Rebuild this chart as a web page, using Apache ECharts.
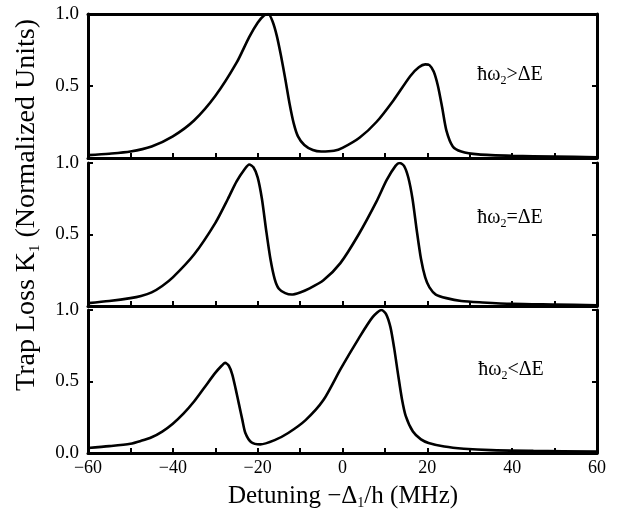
<!DOCTYPE html>
<html>
<head>
<meta charset="utf-8">
<script src="https://cdn.jsdelivr.net/npm/echarts@6/dist/echarts.min.js"></script>
<style>html,body{margin:0;padding:0;background:#fff}#c{width:636px;height:517px}</style>
</head>
<body>
<div id="c"></div>
<script>
// Panel 1: ħω2 > ΔE
var x1 = [-60,-55,-50,-45,-40,-35,-30,-25,-22,-20,-18.5,-17.5,-16.5,-15.5,-14.5,-13.5,-12.5,-11.5,-10.5,-9,-7,-5,-2,0,4,8,12,16,18,19.5,20.5,21.5,22.5,23.5,24.5,26,28,32,40,50,60];
var y1 = [0.02,0.03,0.045,0.08,0.15,0.26,0.43,0.66,0.84,0.94,0.99,1.0,0.95,0.85,0.71,0.55,0.38,0.24,0.15,0.09,0.055,0.045,0.05,0.07,0.14,0.25,0.40,0.57,0.63,0.65,0.645,0.6,0.5,0.35,0.19,0.08,0.045,0.025,0.015,0.01,0.005];
// Panel 2: ħω2 = ΔE
var x2 = [-60,-55,-50,-47.5,-45,-42.5,-40,-35,-30,-27,-25,-23,-22,-21,-20,-19,-18,-17,-16,-15,-13.5,-12,-10,-8,-4.5,-0.5,3.8,8,10.4,12.5,13.5,14.5,15.5,16.5,17.5,18.5,19.5,20.5,22,24.5,28,33,40,50,60];
var y2 = [0.02,0.035,0.055,0.07,0.095,0.14,0.2,0.36,0.58,0.75,0.87,0.96,0.99,0.97,0.9,0.75,0.53,0.33,0.19,0.12,0.09,0.08,0.095,0.12,0.18,0.30,0.50,0.73,0.88,0.98,1.0,0.98,0.9,0.75,0.53,0.33,0.2,0.13,0.08,0.055,0.035,0.025,0.015,0.01,0.005];
// Panel 3: ħω2 < ΔE
var x3 = [-60,-55,-50,-47.5,-45,-42.5,-40,-37.5,-35,-32.5,-30,-28.5,-27.7,-26.8,-26,-25.2,-24.4,-23.6,-22.9,-21.5,-19.4,-16,-12.8,-8.7,-4.5,-0.4,3.8,7.1,9.2,10.3,11.3,12.2,13.1,14,14.9,16.6,18.5,20.3,24,28.6,35,45,60];
var y3 = [0.035,0.048,0.065,0.085,0.11,0.15,0.205,0.275,0.36,0.46,0.56,0.61,0.63,0.61,0.55,0.45,0.34,0.23,0.14,0.075,0.06,0.09,0.14,0.23,0.37,0.59,0.80,0.95,1.0,0.97,0.88,0.73,0.55,0.38,0.26,0.15,0.095,0.07,0.045,0.03,0.02,0.015,0.01];

var xMin = -60, xMax = 60, xStep = 20;
var yMin = 0, yMax = 1, yStep = 0.5;
var panelLabels = [['ħω','2','>ΔE'],['ħω','2','=ΔE'],['ħω','2','<ΔE']];

var FONT = 'Liberation Serif';
function pairs(xs, ys){ return xs.map(function(x,i){return [x, ys[i]];}); }

var grids = [
  {left:88, right:39, top:14, height:144},
  {left:88, right:39, top:163, height:143},
  {left:88, right:39, top:310, height:143}
];
var lineStyleAxis = {color:'#000', width:3};
var xAxes = [], yAxes = [];
grids.forEach(function(g, i){
  xAxes.push({
    type:'value', gridIndex:i, min:xMin, max:xMax, interval:xStep, position:'bottom',
    axisLine:{show:true, onZero:false, lineStyle:lineStyleAxis},
    axisTick:{show:true, inside:true, length:5, lineStyle:{width:2,color:'#000'}},
    minorTick:{show:true, splitNumber:2, length:5, lineStyle:{width:2,color:'#000'}},
    splitLine:{show:false},
    axisLabel:{show:i===2, color:'#000', fontFamily:FONT, fontSize:18, margin:6,
      formatter:function(v){return String(v).replace('-','\u2212');}}
  });
  yAxes.push({
    type:'value', gridIndex:i, min:yMin, max:yMax, interval:yStep, position:'left',
    axisLine:{show:true, onZero:false, lineStyle:lineStyleAxis},
    axisTick:{show:true, inside:true, length:5, lineStyle:{width:2,color:'#000'}},
    splitLine:{show:false},
    axisLabel:{show:true, color:'#000', fontFamily:FONT, fontSize:19, margin:9,
      formatter:function(v){ if(v===0 && i<2) return ''; return v.toFixed(1);} }
  });
  yAxes.push({
    type:'value', gridIndex:i, min:yMin, max:yMax, interval:yStep, position:'right',
    axisLine:{show:true, onZero:false, lineStyle:lineStyleAxis},
    axisTick:{show:true, inside:true, length:5, lineStyle:{width:2,color:'#000'}},
    splitLine:{show:false}, axisLabel:{show:false}
  });
});
// top border for first panel
xAxes.push({
  type:'value', gridIndex:0, min:xMin, max:xMax, position:'top',
  axisLine:{show:true, onZero:false, lineStyle:lineStyleAxis},
  axisTick:{show:false}, axisLabel:{show:false}, splitLine:{show:false}
});

var data = [pairs(x1,y1), pairs(x2,y2), pairs(x3,y3)];
var series = data.map(function(d, i){
  return {type:'line', xAxisIndex:i, yAxisIndex:2*i, data:d, symbol:'none', smooth:0.25,
    lineStyle:{color:'#000', width:2.6}, silent:true};
});

function richLabel(parts, size, subSize){
  return {
    text:'{a|'+parts[0]+'}{s|'+parts[1]+'}{a|'+parts[2]+'}',
    rich:{
      a:{fontFamily:FONT, fontSize:size, lineHeight:size+4, fill:'#000', verticalAlign:'middle'},
      s:{fontFamily:FONT, fontSize:subSize, lineHeight:subSize, fill:'#000', verticalAlign:'bottom'}
    },
    fill:'#000'
  };
}

var labelPos = [[510,75],[510,218],[511,370]];
var graphics = panelLabels.map(function(p, i){
  var st = richLabel(p, 20, 12);
  st.align = 'center'; st.verticalAlign = 'middle';
  return {type:'text', x:labelPos[i][0], y:labelPos[i][1], style:st};
});
var yt = richLabel(['Trap Loss K','1',' (Normalized Units)'], 28, 15);
yt.align='center'; yt.verticalAlign='middle';
graphics.push({type:'text', x:27, y:205, rotation:Math.PI/2, style:yt});
var xt = richLabel(['Detuning \u2212\u0394','1','/h (MHz)'], 25, 14);
xt.align='center'; xt.verticalAlign='middle';
graphics.push({type:'text', x:343, y:496, style:xt});

var chart = echarts.init(document.getElementById('c'), null, {renderer:'canvas'});
chart.setOption({
  animation:false,
  backgroundColor:'#fff',
  grid:grids, xAxis:xAxes, yAxis:yAxes, series:series, graphic:graphics
});
</script>
</body>
</html>
